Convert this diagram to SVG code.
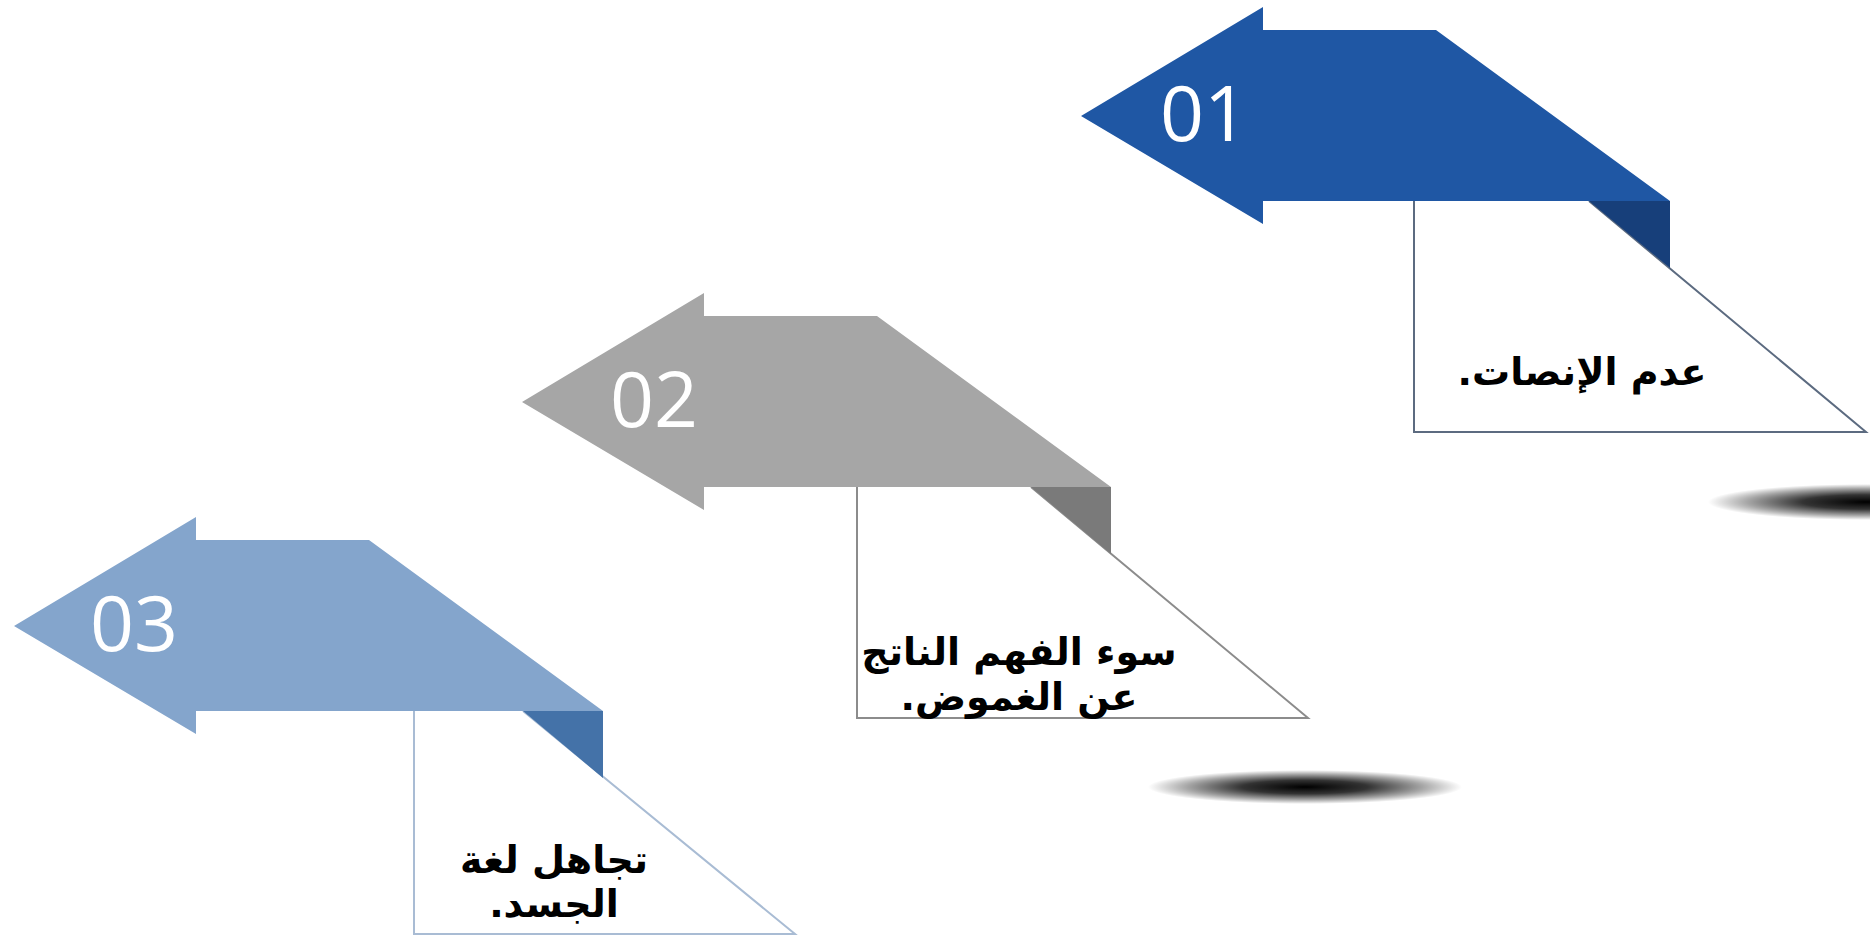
<svg xmlns="http://www.w3.org/2000/svg" width="1870" height="944" viewBox="0 0 1870 944">
<style>
.num{font-family:"Open Sans","Liberation Sans",sans-serif;font-size:77px;fill:#ffffff;text-anchor:middle}
.lbl{font-family:"DejaVu Sans","Noto Sans",sans-serif;font-weight:bold;font-size:38px;fill:#000000;text-anchor:middle;direction:rtl;unicode-bidi:embed}
.boxfill{fill:#ffffff;stroke:none}
.edge{fill:none;stroke-width:2}
</style>
<defs>
<radialGradient id="shadow" cx="0.5" cy="0.5" r="0.5">
<stop offset="0" stop-color="#000" stop-opacity="1"/>
<stop offset="0.4" stop-color="#000" stop-opacity="0.8"/>
<stop offset="0.75" stop-color="#000" stop-opacity="0.35"/>
<stop offset="1" stop-color="#000" stop-opacity="0"/>
</radialGradient>
</defs>
<rect width="1870" height="944" fill="#ffffff"/>
<g id="shadows">
<ellipse cx="1866" cy="502" rx="158" ry="18" fill="url(#shadow)"/>
<ellipse cx="1305" cy="787" rx="157" ry="17" fill="url(#shadow)"/>
</g>
<g id="node-01">
<polygon class="boxfill" points="1414,201 1589,201 1866,432 1414,432"/>
<path class="edge" stroke="#5c6b80" d="M1589,201 L1866,432 L1414,432 L1414,201"/>
<path fill="#1f57a4" d="M1081,116 L1263,7 L1263,30 L1436,30 L1670,201 L1263,201 L1263,224 Z"/>
<path fill="#173f7a" d="M1589,201 L1670,201 L1670,268 Z"/>
<text class="num" x="1204" y="141">01</text>
<text class="lbl" direction="rtl" x="1582" y="385">عدم الإنصات.</text>
</g>
<g id="node-02">
<polygon class="boxfill" points="857,487 1031,487 1308,718 857,718"/>
<path class="edge" stroke="#8c8c8c" d="M1031,487 L1308,718 L857,718 L857,487"/>
<path fill="#a6a6a6" d="M522,402 L704,293 L704,316 L877,316 L1111,487 L704,487 L704,510 Z"/>
<path fill="#7a7a7a" d="M1031,487 L1111,487 L1111,554 Z"/>
<text class="num" x="654" y="427">02</text>
<text class="lbl" direction="rtl" x="1019" y="665">سوء الفهم الناتج</text>
<text class="lbl" direction="rtl" x="1019" y="710">عن الغموض.</text>
</g>
<g id="node-03">
<polygon class="boxfill" points="414,711 523,711 795,934 414,934"/>
<path class="edge" stroke="#a9bcd4" d="M523,711 L795,934 L414,934 L414,711"/>
<path fill="#84a5cc" d="M14,626 L196,517 L196,540 L369,540 L603,711 L196,711 L196,734 Z"/>
<path fill="#4472a8" d="M523,711 L603,711 L603,778 Z"/>
<text class="num" x="134" y="651">03</text>
<text class="lbl" direction="rtl" x="554" y="873">تجاهل لغة</text>
<text class="lbl" direction="rtl" x="554" y="917">الجسد.</text>
</g>
<g id="connectors"/>
</svg>
